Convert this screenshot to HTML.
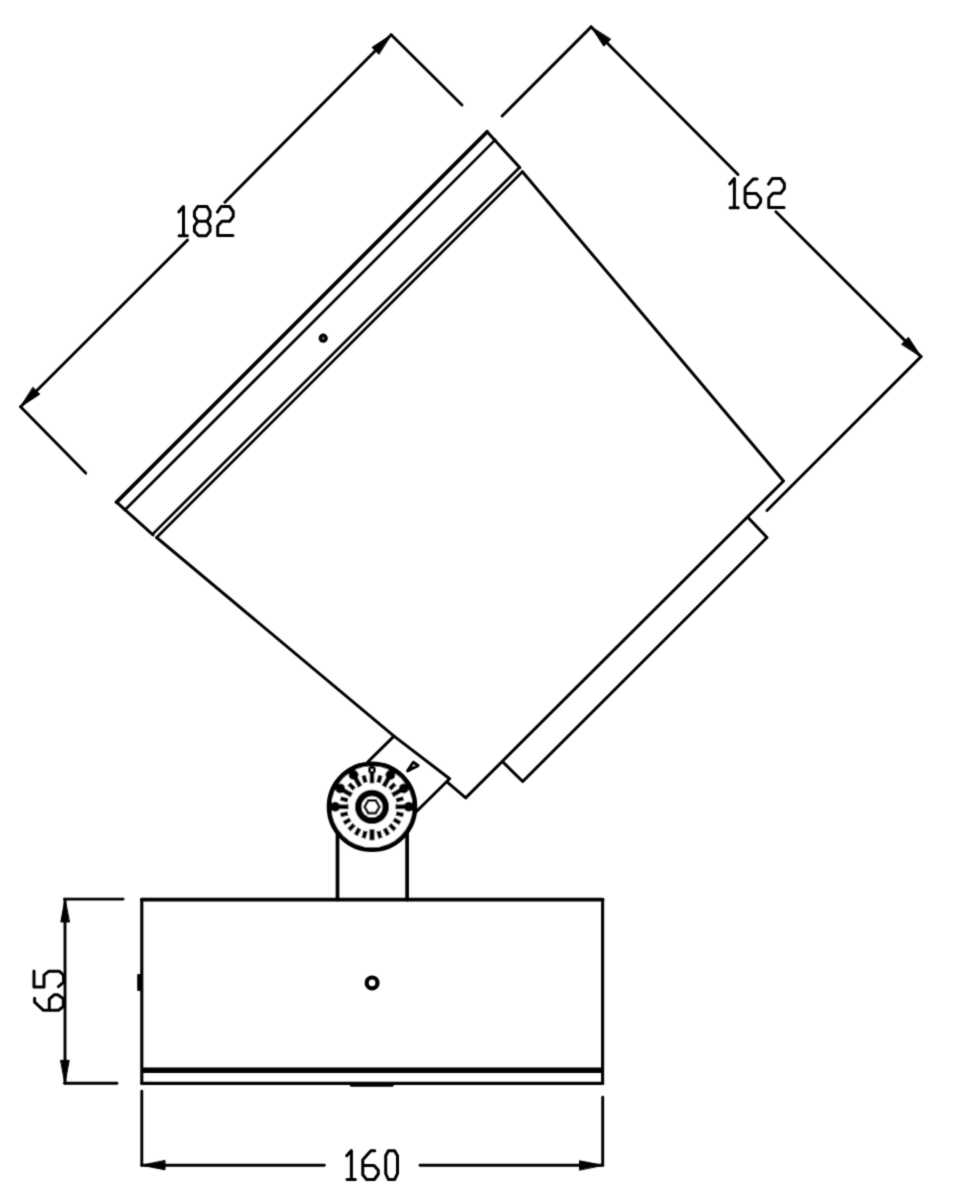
<!DOCTYPE html>
<html><head><meta charset="utf-8"><title>Drawing</title>
<style>html,body{margin:0;padding:0;background:#fff;width:963px;height:1200px;overflow:hidden;font-family:"Liberation Sans",sans-serif;}svg{display:block;}</style>
</head><body>
<svg width="963" height="1200" viewBox="0 0 963 1200">
<defs><filter id="b" x="-1%" y="-1%" width="102%" height="102%"><feConvolveMatrix order="3" kernelMatrix="1 2 1 2 12 2 1 2 1" divisor="24" edgeMode="duplicate" preserveAlpha="false"/></filter></defs>
<rect width="963" height="1200" fill="#fff"/>
<g filter="url(#b)">
<g fill="none" stroke="#000" stroke-width="3.0" stroke-linecap="round" stroke-linejoin="round">
<line x1="20.60" y1="406.80" x2="187.50" y2="240.10" stroke-width="2.9"/>
<line x1="224.90" y1="202.20" x2="391.20" y2="34.80" stroke-width="2.9"/>
<line x1="20.60" y1="406.80" x2="85.70" y2="473.10" stroke-width="2.9"/>
<line x1="391.20" y1="34.80" x2="462.00" y2="105.00" stroke-width="2.9"/>
<polygon points="20.6,406.8 39.8,394.2 33.1,387.5" fill="#000" stroke="#000" stroke-width="1"/>
<polygon points="391.2,34.8 372.0,47.4 378.7,54.1" fill="#000" stroke="#000" stroke-width="1"/>
<line x1="591.20" y1="26.90" x2="738.00" y2="174.40" stroke-width="2.9"/>
<line x1="775.90" y1="211.80" x2="921.00" y2="356.60" stroke-width="2.9"/>
<line x1="591.20" y1="26.90" x2="502.10" y2="116.00" stroke-width="2.9"/>
<line x1="921.00" y1="356.60" x2="767.00" y2="510.50" stroke-width="2.9"/>
<polygon points="591.2,26.9 603.8,46.2 610.5,39.4" fill="#000" stroke="#000" stroke-width="1"/>
<polygon points="921.0,356.6 908.4,337.3 901.7,344.1" fill="#000" stroke="#000" stroke-width="1"/>
<line x1="65.00" y1="899.10" x2="65.00" y2="1083.20" stroke-width="2.9"/>
<line x1="64.50" y1="899.10" x2="123.10" y2="899.10" stroke-width="2.9"/>
<line x1="64.50" y1="1083.20" x2="116.90" y2="1083.20" stroke-width="2.9"/>
<polygon points="65.0,899.1 60.8,922.0 69.2,922.0" fill="#000" stroke="#000" stroke-width="1"/>
<polygon points="65.0,1083.2 69.2,1060.3 60.8,1060.3" fill="#000" stroke="#000" stroke-width="1"/>
<line x1="141.80" y1="1091.10" x2="141.80" y2="1165.30" stroke-width="2.9"/>
<line x1="602.70" y1="1097.10" x2="602.70" y2="1165.30" stroke-width="2.9"/>
<line x1="141.80" y1="1165.30" x2="324.30" y2="1165.30" stroke-width="2.9"/>
<line x1="420.00" y1="1165.30" x2="602.70" y2="1165.30" stroke-width="2.9"/>
<polygon points="141.8,1165.3 165.0,1169.8 165.0,1160.8" fill="#000" stroke="#000" stroke-width="1"/>
<polygon points="602.7,1165.3 579.5,1160.8 579.5,1169.8" fill="#000" stroke="#000" stroke-width="1"/>
<line x1="116.60" y1="502.20" x2="487.10" y2="131.80" stroke-width="3.8"/>
<polyline points="487.1,131.8 519.9,167.7" />
<polyline points="116.6,502.2 153,534.9" />
<line x1="124.90" y1="510.00" x2="495.20" y2="139.90" stroke-width="2.7"/>
<line x1="153.00" y1="533.90" x2="519.50" y2="167.50" stroke-width="2.7"/>
<line x1="156.60" y1="537.50" x2="522.40" y2="171.70" stroke-width="2.7"/>
<circle cx="323.2" cy="338.2" r="4.6" fill="#000" stroke="none"/>
<circle cx="323.2" cy="338.2" r="0.9" fill="#888" stroke="none"/>
<polyline points="522.4,171.7 783.5,481 465.7,797.9 447,781.8" />
<polyline points="394,736.1 156.6,537.5" />
<polyline points="748,517.5 767,537.5 522.7,781.5 503.1,762.2" />
<polyline points="368,761.8 394,736.1 449.6,778.7 415.2,812.7" />
<polygon points="407.6,770.9 413.3,762.3 418.0,765.6" stroke-width="3.0" fill="#fff"/>
<line x1="337.50" y1="831.30" x2="337.50" y2="899.60" stroke-width="3.7"/>
<line x1="407.10" y1="831.30" x2="407.10" y2="899.60" stroke-width="3.7"/>
<line x1="141.80" y1="899.60" x2="602.60" y2="899.60" stroke-width="3.8"/>
<line x1="141.80" y1="899.60" x2="141.80" y2="1083.30" stroke-width="3.1"/>
<line x1="602.60" y1="899.60" x2="602.60" y2="1083.30" stroke-width="3.1"/>
<line x1="141.80" y1="1083.40" x2="602.60" y2="1083.40" stroke-width="3.2"/>
<line x1="141.80" y1="1070.30" x2="602.60" y2="1070.30" stroke-width="5.6" stroke-linecap="butt"/>
<line x1="351.50" y1="1084.80" x2="392.10" y2="1084.80" stroke-width="3.8"/>
<circle cx="372.1" cy="982.9" r="5.4" fill="none" stroke-width="4.2"/>
<rect x="137.2" y="974" width="4.8" height="17" rx="1" fill="#000" stroke="none"/>
<circle cx="372.0" cy="806.8" r="42.9" fill="#fff" stroke-width="4.8"/>
<circle cx="372.0" cy="806.8" r="13.8" fill="none" stroke-width="6.6"/>
<polygon points="379.40,806.80 375.70,813.21 368.30,813.21 364.60,806.80 368.30,800.39 375.70,800.39" fill="none" stroke-width="2.7"/>
<line x1="395.50" y1="806.80" x2="408.00" y2="806.80" stroke-width="4.8" stroke-linecap="butt"/>
<circle cx="408.80" cy="806.80" r="5.0" fill="#000" stroke="none"/>
<line x1="396.15" y1="800.33" x2="403.49" y2="798.36" stroke-width="4.4" stroke-linecap="butt"/>
<line x1="392.35" y1="795.05" x2="403.18" y2="788.80" stroke-width="4.8" stroke-linecap="butt"/>
<circle cx="403.87" cy="788.40" r="5.0" fill="#000" stroke="none"/>
<line x1="389.68" y1="789.12" x2="395.05" y2="783.75" stroke-width="4.4" stroke-linecap="butt"/>
<line x1="383.75" y1="786.45" x2="390.00" y2="775.62" stroke-width="4.8" stroke-linecap="butt"/>
<circle cx="390.40" cy="774.93" r="5.0" fill="#000" stroke="none"/>
<line x1="378.47" y1="782.65" x2="380.44" y2="775.31" stroke-width="4.4" stroke-linecap="butt"/>
<line x1="372.00" y1="783.30" x2="372.00" y2="772.80" stroke-width="4.6" stroke-linecap="butt"/>
<circle cx="372.00" cy="770.10" r="2.6" fill="none" stroke-width="3.0"/>
<line x1="365.53" y1="782.65" x2="363.56" y2="775.31" stroke-width="4.4" stroke-linecap="butt"/>
<line x1="360.25" y1="786.45" x2="354.00" y2="775.62" stroke-width="4.8" stroke-linecap="butt"/>
<circle cx="353.60" cy="774.93" r="5.0" fill="#000" stroke="none"/>
<line x1="354.32" y1="789.12" x2="348.95" y2="783.75" stroke-width="4.4" stroke-linecap="butt"/>
<line x1="351.65" y1="795.05" x2="340.82" y2="788.80" stroke-width="4.8" stroke-linecap="butt"/>
<circle cx="340.13" cy="788.40" r="5.0" fill="#000" stroke="none"/>
<line x1="347.85" y1="800.33" x2="340.51" y2="798.36" stroke-width="4.4" stroke-linecap="butt"/>
<line x1="348.50" y1="806.80" x2="336.00" y2="806.80" stroke-width="4.8" stroke-linecap="butt"/>
<circle cx="335.20" cy="806.80" r="5.0" fill="#000" stroke="none"/>
<line x1="347.85" y1="813.27" x2="340.51" y2="815.24" stroke-width="4.4" stroke-linecap="butt"/>
<line x1="350.35" y1="819.30" x2="343.77" y2="823.10" stroke-width="4.4" stroke-linecap="butt"/>
<line x1="354.32" y1="824.48" x2="348.95" y2="829.85" stroke-width="4.4" stroke-linecap="butt"/>
<line x1="359.50" y1="828.45" x2="355.70" y2="835.03" stroke-width="4.4" stroke-linecap="butt"/>
<line x1="365.53" y1="830.95" x2="363.56" y2="838.29" stroke-width="4.4" stroke-linecap="butt"/>
<line x1="372.00" y1="829.30" x2="372.00" y2="840.30" stroke-width="5.0" stroke-linecap="butt"/>
<line x1="378.47" y1="830.95" x2="380.44" y2="838.29" stroke-width="4.4" stroke-linecap="butt"/>
<line x1="384.50" y1="828.45" x2="388.30" y2="835.03" stroke-width="4.4" stroke-linecap="butt"/>
<line x1="389.68" y1="824.48" x2="395.05" y2="829.85" stroke-width="4.4" stroke-linecap="butt"/>
<line x1="393.65" y1="819.30" x2="400.23" y2="823.10" stroke-width="4.4" stroke-linecap="butt"/>
<line x1="396.15" y1="813.27" x2="403.49" y2="815.24" stroke-width="4.4" stroke-linecap="butt"/>
</g>
<g fill="none" stroke="#000" stroke-width="3.0" stroke-linecap="round" stroke-linejoin="round">
<path transform="translate(178.6,206.3)" d="M0.2,5.6 L4.9,0.3 L4.9,29.4 M0.5,29.4 L8.8,29.4"/>
<path transform="translate(194.1,206.3)" d="M3.6,0.3 L12.9,0.3 L15.9,5.2 L15.9,10.1 L12.9,15 L3.6,15 L0.3,10.1 L0.3,5.2 Z M3.6,15 L0.3,19.8 L0.3,24.9 L4.5,29.4 L12.4,29.4 L15.9,24.9 L15.9,19.8 L12.9,15"/>
<path transform="translate(217.1,206.3)" d="M0.3,5.8 L4.1,0.2 L12.4,0.2 L16.1,5.2 L16.1,10.2 L12.4,15 L4.8,15 L0.6,19.8 L0.6,29.3 L15.9,29.3"/>
<path transform="translate(729.5,178.3)" d="M0.2,5.6 L4.9,0.3 L4.9,29.4 M0.5,29.4 L8.8,29.4"/>
<path transform="translate(745.3,178.3)" d="M11.8,0.6 L7.9,0.6 L-0.2,9.5 L-0.2,24.5 L3.6,29.3 L11.3,29.3 L15.3,23.8 L15.3,20.1 L11,15.3 L-0.2,15.3"/>
<path transform="translate(768.2,178.3)" d="M0.3,5.8 L4.1,0.2 L12.4,0.2 L16.1,5.2 L16.1,10.2 L12.4,15 L4.8,15 L0.6,19.8 L0.6,29.3 L15.9,29.3"/>
<path transform="translate(346.5,1150.2)" d="M0.2,5.6 L4.9,0.3 L4.9,29.4 M0.5,29.4 L8.8,29.4"/>
<path transform="translate(363.0,1150.2)" d="M11.8,0.6 L7.9,0.6 L-0.2,9.5 L-0.2,24.5 L3.6,29.3 L11.3,29.3 L15.3,23.8 L15.3,20.1 L11,15.3 L-0.2,15.3"/>
<path transform="translate(385.9,1150.2)" d="M2.5,0.5 L8.7,0.5 L11.6,5.6 L11.6,23.4 L8.7,29.3 L2.5,29.3 L-0.2,23.4 L-0.2,5.6 Z"/>
<path transform="matrix(0,-1,1,0,34.0,1010.1)" d="M11.8,0.6 L7.9,0.6 L-0.2,9.5 L-0.2,24.5 L3.6,29.3 L11.3,29.3 L15.3,23.8 L15.3,20.1 L11,15.3 L-0.2,15.3"/>
<path transform="matrix(0,-1,1,0,34.0,987.0)" d="M16.0,0 L0,0 L0,10 L11.9,10 L15.8,14.9 L15.8,25.2 L11.9,29.5 L4.7,29.5 L0.3,24.4"/>
</g>
</g>
</svg>
</body></html>
